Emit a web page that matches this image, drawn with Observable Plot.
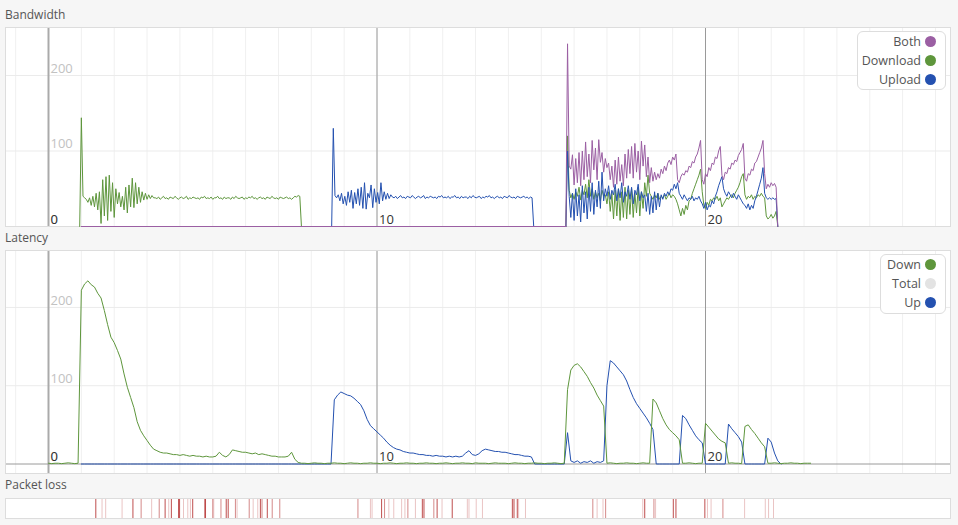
<!DOCTYPE html>
<html><head><meta charset="utf-8">
<script src="https://cdn.jsdelivr.net/npm/d3@7"></script>
<script src="https://cdn.jsdelivr.net/npm/@observablehq/plot@0.6"></script>
<style>
html,body{margin:0;padding:0}
body{background:#f6f6f6;font-family:"Open Sans",sans-serif;width:958px;height:525px;position:relative;overflow:hidden}
.lbl{position:absolute;left:5px;font-size:12px;color:#555;line-height:14px;white-space:nowrap}
.panel{position:absolute;left:5px}
.panel svg{display:block}
.legend{position:absolute;background:#fff;border:1px solid #ddd;border-radius:6px;box-sizing:border-box;padding:0 9px 0 0}
.row{height:19px;display:flex;justify-content:flex-end;align-items:center;font-size:12.5px;color:#555;white-space:nowrap}
.dot{width:11px;height:11px;border-radius:50%;margin-left:4px;flex:none}
</style></head><body>
<div class="lbl" style="top:8px">Bandwidth</div>
<div class="panel" id="bw" style="top:27px"></div>
<div class="lbl" style="top:231px">Latency</div>
<div class="panel" id="lat" style="top:250px"></div>
<div class="lbl" style="top:478px">Packet loss</div>
<div class="panel" id="loss" style="top:498px"></div>
<div class="legend" id="leg1" style="left:857px;top:31px;width:89px;height:59px"></div>
<div class="legend" id="leg2" style="left:880px;top:254px;width:66px;height:60px"></div>
<script>
// ---------- colours ----------
const C = {both: "#9b5fa3", download: "#5e963c", upload: "#2451b0", total: "#e3e3e3", loss: "#b83b3b"};

// ---------- axis ticks ----------
const xMinorTicks = [-1,0,1,2,3,4,5,6,7,8,9,10,11,12,13,14,15,16,17,18,19,20,21,22,23,24,25,26,27];
const xMajorTicks = [10, 20];
const xTickLabels = [0, 10, 20];
const yGridTicks = [100, 200];
const yTickLabels = [0, 100, 200];

// ---------- bandwidth (Mbit/s), sampled every 0.05 s ----------
const bwStep = 0.05;
const dlSoloStart = 0.95;
const dlSolo = [0,144,40,38,36,32,38,28,40,26,44,22,46,4,62,14,66,8,68,20,58,12,50,30,45,26,40,22,52,18,55,26,64,25,58,30,52,32,46,35,44,36,42,37,41,38,
38,37,39,36,38,40,37,38,36,39,38,37,40,38,36,38,39,37,38,40,
36,38,37,39,38,37,38,36,39,38,40,37,38,37,39,36,38,38,40,37,
38,36,39,37,38,38,36,39,37,40,38,37,38,39,36,38,37,39,38,40,
37,38,36,38,39,37,38,36,39,38,37,40,38,37,38,36,39,38,37,38,
39,37,38,36,38,40,39,41,
40,0];
const ulSoloStart = 8.62;
const ulSolo = [0,130,41,38,42,34,44,30,40,28,46,32,48,24,45,30,50,28,52,24,58,23,44,38,55,25,50,32,45,30,58,34,46,36,44,37,42,
39,38,40,37,39,41,38,39,37,40,39,38,41,39,37,39,40,38,39,41,
37,39,38,40,39,38,39,37,40,39,41,38,39,38,40,37,39,39,41,38,
39,37,40,38,39,39,37,40,38,41,39,38,39,40,37,39,38,40,39,41,
38,39,37,39,40,38,39,37,40,39,38,41,39,38,39,37,40,39,38,39,
40,38,39,37,39,38,
0];
const bothIdleT = [1.0, 15.75];
const bothIdleV = [0, 0];
const mixStart = 15.75;
const bothMix = [0,242,80,76,95,55,90,58,98,54,
100,62,112,66,96,58,114,75,104,62,
115,85,98,72,90,78,84,62,80,52,
88,56,92,60,82,54,96,64,102,70,
106,64,110,72,100,62,113,80,108,66,
92,58,78,60,72,62,70,64,76,70,
80,74,84,88,82,92,88,96,62,58,
66,70,68,74,72,80,78,86,84,92,
96,104,114,62,56,70,66,78,74,84,
82,92,90,100,106,68,62,72,70,78,
76,84,82,88,86,94,98,102,110,64,
60,70,68,76,74,84,86,92,98,104,
114,70,50,56,52,58,54,57,52,0];
const dlMix = [0,120,48,38,44,36,46,40,52,35,
48,42,56,38,62,40,50,36,46,38,
44,34,48,40,42,30,46,20,44,10,
48,14,50,8,46,12,52,10,48,16,
50,12,44,18,52,14,46,24,58,40,
68,44,40,36,42,38,44,36,40,38,
42,36,40,44,38,42,40,36,30,22,
14,24,16,28,22,34,36,44,50,56,
62,68,76,46,28,24,32,28,36,34,
38,36,40,34,38,26,30,34,38,36,
40,42,38,44,48,52,58,66,70,42,
36,40,38,42,36,40,38,42,40,44,
40,38,14,10,12,16,11,14,20,0];
const ulMix = [0,100,40,12,44,8,50,14,42,6,
54,18,46,10,52,20,58,16,48,26,
60,24,72,34,50,40,54,36,48,42,
56,34,50,38,58,32,46,40,54,36,
52,30,48,42,56,34,46,38,42,20,
44,16,40,18,46,22,44,26,42,36,
44,40,46,42,50,48,56,50,58,44,
40,36,42,38,34,38,36,40,34,38,
36,40,34,30,24,32,22,28,26,34,
30,40,46,54,60,66,50,44,40,46,
42,38,44,40,36,42,38,34,30,28,
24,30,22,28,24,34,40,48,56,64,
78,44,38,36,38,36,38,36,37,0];

// ---------- latency (ms), sampled every 0.1 s ----------
const latStep = 0.1;
const latDownStart = 0.0;
const latDown = [1,0.5,1,1,0.5,1,1.5,1,0.5,1,
222,230,234,229,226,218,212,196,178,162,
155,145,134,115,98,85,72,54,43,36,
30,24,19,17,15,14,14,13,12,12,
11,12,11,10,11,10,10,9,10,9,
9,10,15,11,9,12,18,17,16,15,
15,14,13,14,12,13,12,11,10,10,
9,9,9,10,15,6,2,1,
1,0.5,1,1.5,1,1,0.5,1,1,1.5,
1,1,0.5,1,1.5,1,1,0.5,1,1,
1.5,1,1,0.5,1,1,1.5,1,0.5,1,
1,1.5,1,1,0.5,1,1,1.5,1,1,
0.5,1,1,1.5,1,0.5,1,1,1.5,1,
1,0.5,1.5,1,1,1,0.5,1,1.5,1,
1,1,0.5,1,1.5,1,1,0.5,1,1,
1.5,1,1,0.5,1,1,1.5,1,0.5,1,
95,120,126,128,124,118,112,104,97,88,81,74,
1,1.5,1,0.5,1,1,1.5,1,1,0.5,1,1.5,1,1,
83,78,68,58,50,44,40,36,31,
1,1,1.5,1,0.5,1,1,
52,47,42,37,32,29,27,
1,1.5,1,1,0.5,
48,50,44,39,33,27,22,
1,1,1.5,1,0.5,1,1,1.5,1,1,0.5,1,1,1];
const latUpStart = 1.0;
const latUp = [0,0,0,0,0,0,0,0,0,0,0,
0,0,0,0,0,0,0,0,0,0,0,
0,0,0,0,0,0,0,0,0,0,0,
0,0,0,0,0,0,0,0,0,0,0,
0,0,0,0,0,0,0,0,0,0,0,
0,0,0,0,0,0,0,0,0,0,0,
0,0,0,0,0,0,0,0,0,0,0,
82,88,92,90,88,87,84,80,76,68,
57,49,45,41,37,33,28,24,21,19,
18,16,15,14,14,13,12,12,11,11,
10,11,10,10,9,10,9,10,9,10,
14,17,12,11,13,17,19,18,17,16,
16,15,15,14,13,12,12,11,10,10,
9,
0,0,0,0,0,0,0,0,0,0,
40,4,2,4,1,3,2,4,1,3,2,4,
100,132,129,124,119,114,106,95,85,77,71,65,59,52,44,
0,0,0,0,0,0,0,0,
62,58,50,43,36,31,27,
0,0,0,0,0,0,0,
51,45,40,35,28,
0,0,0,0,0,0,0,
33,28,14,4,0];

// ---------- packet loss events (s) and severity (1 light .. 3 dark) ----------
const lossT = [1.44,1.63,1.74,2.24,2.57,2.82,3.14,3.37,3.55,3.66,3.74,3.96,3.99,4.11,4.24,4.32,4.39,4.76,4.78,5.00,5.03,5.25,5.41,5.47,5.69,5.74,6.11,6.23,6.37,6.45,6.50,6.66,6.81,7.04,
9.42,9.80,9.85,10.14,10.23,10.36,10.51,10.75,10.85,10.94,11.17,11.38,11.43,11.73,11.83,11.98,12.29,
12.75,12.80,13.02,13.21,14.12,14.17,14.27,14.31,14.52,16.57,16.70,16.88,16.96,18.09,18.15,18.43,18.48,19.02,19.10,19.98,20.06,20.17,20.53,21.19,21.82,21.92,22.07];
const lossLevel = [3,1,1,1,3,2,1,2,3,1,3,3,3,1,1,1,3,3,3,2,1,2,3,3,2,1,2,1,1,3,2,3,2,2,
2,1,1,3,2,1,1,1,1,2,1,3,3,2,3,1,3,
1,1,1,1,3,3,3,1,1,2,1,1,2,1,3,2,1,3,3,3,1,1,2,1,1,1,1];

// ---------- build tables ----------
const seq = (start, step, vals, seg) => vals.map((v, i) => ({t: start + i * step, v, seg}));
const bwDownload = [...seq(dlSoloStart, bwStep, dlSolo, "a"), ...seq(mixStart, bwStep, dlMix, "b")];
const bwUpload = [...seq(ulSoloStart, bwStep, ulSolo, "a"), ...seq(mixStart, bwStep, ulMix, "b")];
const bwBoth = [...bothIdleT.map((t, i) => ({t, v: bothIdleV[i], seg: "a"})), ...seq(mixStart, bwStep, bothMix, "b")];
const latDownRows = seq(latDownStart, latStep, latDown, "a");
const latUpRows = seq(latUpStart, latStep, latUp, "a");
const lossRows = lossT.map((t, i) => ({t, level: lossLevel[i]}));

const W = 945;
const xScale = {domain: [-1.309, 27.458], axis: null};
const font = {fontFamily: "'Open Sans', sans-serif", background: "#fff", overflow: "visible"};

function gridMarks(yMin) {
  return [
    Plot.ruleX(xMinorTicks, {x: d => d, stroke: "#f0f0f0", strokeWidth: 1}),
    Plot.ruleY(yGridTicks, {y: d => d, stroke: "#ebebeb", strokeWidth: 1}),
    Plot.ruleX(xMajorTicks, {x: d => d, stroke: "#9a9a9a", strokeWidth: 1}),
    Plot.ruleX([0], {x: d => d, stroke: "#aaaaaa", strokeWidth: 2}),
    Plot.ruleY([0], {y: d => d, stroke: "#9a9a9a", strokeWidth: 1}),
    Plot.frame({stroke: "#dddddd"}),
    Plot.text(yTickLabels, {x: 0, y: d => d, text: d => String(d), textAnchor: "start", dx: 2, dy: -7, fill: "#c2c2c2", fontSize: 13}),
    Plot.text(xTickLabels, {x: d => d, y: 0, text: d => String(d), textAnchor: "start", dx: 2, dy: -7, fill: "#333", fontSize: 13})
  ];
}

const bw = Plot.plot({
  width: W, height: 200, marginLeft: 0, marginRight: 0, marginTop: 0, marginBottom: 1,
  x: xScale, y: {domain: [0, 263.6], axis: null}, style: font,
  marks: [
    ...gridMarks(0),
    Plot.line(bwDownload, {x: "t", y: "v", z: "seg", stroke: C.download, strokeWidth: 1}),
    Plot.line(bwUpload, {x: "t", y: "v", z: "seg", stroke: C.upload, strokeWidth: 1}),
    Plot.line(bwBoth, {x: "t", y: "v", z: "seg", stroke: C.both, strokeWidth: 1})
  ]
});
document.getElementById("bw").appendChild(bw);

const lat = Plot.plot({
  width: W, height: 223, marginLeft: 0, marginRight: 0, marginTop: 0, marginBottom: 0,
  x: xScale, y: {domain: [-12.13, 272.7], axis: null}, style: font,
  marks: [
    ...gridMarks(-12),
    Plot.line(latUpRows, {x: "t", y: "v", z: "seg", stroke: C.upload, strokeWidth: 1}),
    Plot.line(latDownRows, {x: "t", y: "v", z: "seg", stroke: C.download, strokeWidth: 1})
  ]
});
document.getElementById("lat").appendChild(lat);

const loss = Plot.plot({
  width: W, height: 20, marginLeft: 0, marginRight: 0, marginTop: 0, marginBottom: 0,
  x: xScale, y: {domain: [0, 1], axis: null}, style: font,
  opacity: {domain: [1, 3], range: [0.3, 0.9]},
  marks: [
    Plot.ruleX(lossRows, {x: "t", stroke: C.loss, strokeOpacity: d => d.level === 3 ? 0.9 : d.level === 2 ? 0.6 : 0.3, strokeWidth: 1}),
    Plot.frame({stroke: "#dddddd"})
  ]
});
document.getElementById("loss").appendChild(loss);

// ---------- legends ----------
function legend(id, items) {
  const el = document.getElementById(id);
  for (const [name, color] of items) {
    const r = document.createElement("div");
    r.className = "row";
    r.innerHTML = `<span>${name}</span><span class="dot" style="background:${color}"></span>`;
    el.appendChild(r);
  }
}
legend("leg1", [["Both", C.both], ["Download", C.download], ["Upload", C.upload]]);
legend("leg2", [["Down", C.download], ["Total", C.total], ["Up", C.upload]]);
</script>
</body></html>
